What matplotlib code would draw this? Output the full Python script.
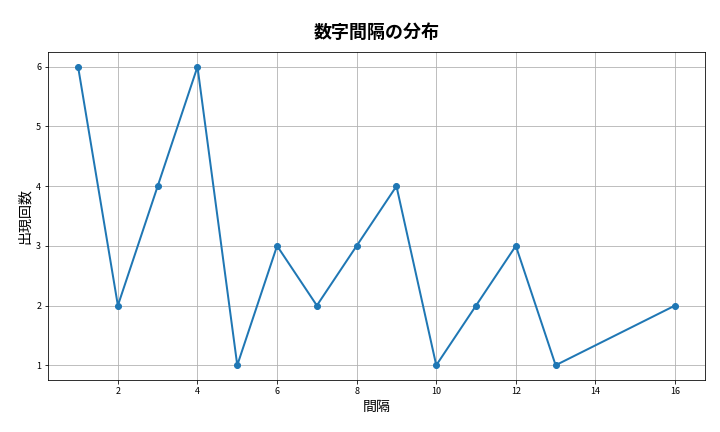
import matplotlib
matplotlib.use("Agg")
import matplotlib.pyplot as plt

plt.rcParams['font.family'] = ['Noto Sans CJK JP', 'DejaVu Sans']

gaps = [1, 2, 3, 4, 5, 6, 7, 8, 9, 10, 11, 12, 13, 16]
counts = [6, 2, 4, 6, 1, 3, 2, 3, 4, 1, 2, 3, 1, 2]

fig, ax = plt.subplots(figsize=(10, 6), dpi=72)
ax.plot(gaps, counts, marker="o", color="#1f77b4", lw=2, ms=6)
ax.set_title("数字間隔の分布", fontsize=18, fontweight="bold", pad=14)
ax.set_xlabel("間隔", fontsize=14)
ax.set_ylabel("出現回数", fontsize=14)
ax.tick_params(labelsize=9)
ax.grid(True, color="#b0b0b0", lw=0.8)
fig.subplots_adjust(left=0.067, right=0.979, top=0.88, bottom=0.12)
plt.savefig("out.png", dpi=72)
